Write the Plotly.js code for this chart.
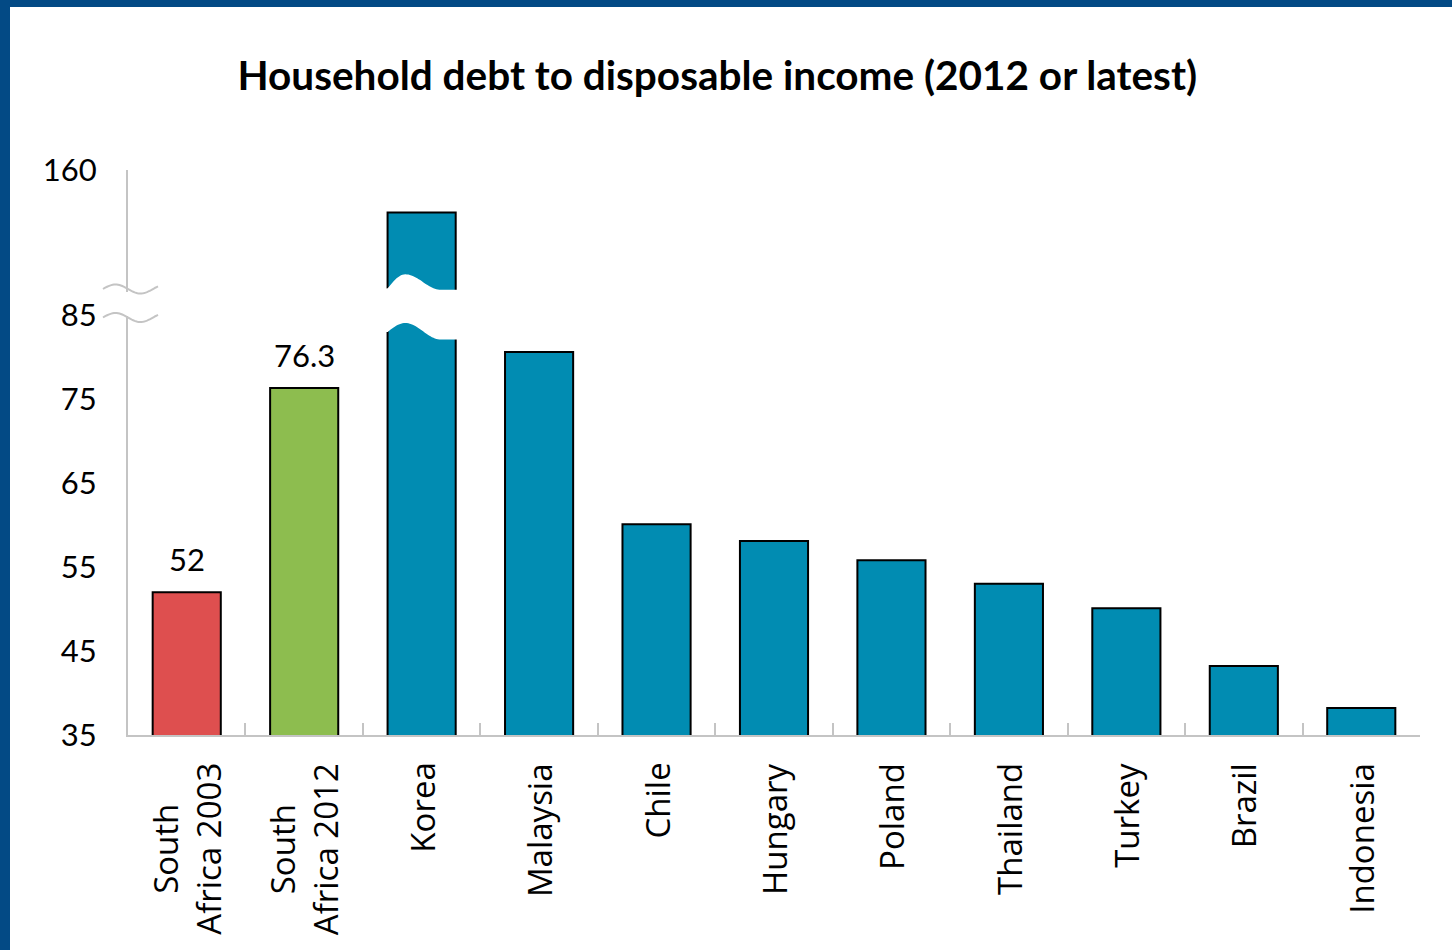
<!DOCTYPE html>
<html>
<head>
<meta charset="utf-8">
<script src="https://cdn.plot.ly/plotly-3.0.1.min.js"></script>
<style>
html, body { margin: 0; padding: 0; background: #ffffff; }
#chart { width: 1452px; height: 950px; }
</style>
</head>
<body>
<div id="chart"></div>
<script>
// ---- data ----
const categories = ['South Africa 2003', 'South Africa 2012', 'Korea', 'Malaysia', 'Chile',
  'Hungary', 'Poland', 'Thailand', 'Turkey', 'Brazil', 'Indonesia'];
const categoryLabels = ['South<br>Africa 2003', 'South<br>Africa 2012', 'Korea', 'Malaysia', 'Chile',
  'Hungary', 'Poland', 'Thailand', 'Turkey', 'Brazil', 'Indonesia'];
const values = [52, 76.3, 138, 80.6, 60.1, 58.1, 55.8, 53.0, 50.1, 43.2, 38.2];
const valueLabels = ['52', '76.3', '', '', '', '', '', '', '', '', ''];
const lowerTicks = [35, 45, 55, 65, 75, 85];
const upperTicks = [160];
const lowerRange = [35, 85];
const upperRange = [85, 160];
const breakIndex = 2; // Korea, the bar that crosses the axis break

// ---- styles ----
const barColors = ['#de4f4f', '#8dbd4f', '#018cb2', '#018cb2', '#018cb2', '#018cb2',
  '#018cb2', '#018cb2', '#018cb2', '#018cb2', '#018cb2'];
const axisGray = '#c4c4c4';
const BAR_W = 0.58;

// plot area in pixels (for decorations only)
const W = 1452, H = 950;
const L = 128, R = 1420, T = 170, B = 735;
const BREAK_PY = 315; // pixel where lower and upper segments meet
const px2x = p => (p - L) / (R - L);
const py2y = p => (B - p) / (B - T);
const splitDomain = py2y(BREAK_PY);

const common = {
  type: 'bar',
  x: categories,
  y: values,
  width: BAR_W,
  marker: { color: barColors, line: { color: '#000000', width: 2 } },
  hoverinfo: 'x+y',
  showlegend: false
};
const lower = Object.assign({}, common, { xaxis: 'x', yaxis: 'y' });
const upper = Object.assign({}, common, { xaxis: 'x', yaxis: 'y2' });

// ---- decorations: axis break and bar break ----
function sinePath(x0, x1, cy, amp, period) {
  let d = '';
  for (let i = 0; i <= 40; i++) {
    const px = x0 + (x1 - x0) * i / 40;
    const py = cy - amp * Math.sin(2 * Math.PI * (px - x0) / period);
    d += (i === 0 ? 'M' : 'L') + px2x(px).toFixed(5) + ',' + py2y(py).toFixed(5) + ' ';
  }
  return d;
}
function edge(t, yl, yp, yr) {
  const tp = 0.26, te = 0.78;
  if (t <= 0) return yl;
  if (t < tp) return yl + (yp - yl) * Math.sin(Math.PI / 2 * t / tp);
  if (t < te) return yr + (yp - yr) * (1 + Math.cos(Math.PI * (t - tp) / (te - tp))) / 2;
  return yr;
}
function barBreakPath(idx) {
  const xl = idx - BAR_W / 2;
  const pts = [];
  const N = 60;
  for (let i = 0; i <= N; i++) {
    const t = -0.15 + 1.3 * i / N;
    pts.push([xl + t * BAR_W, edge(t, 288.5, 274.3, 289.8)]);
  }
  for (let i = N; i >= 0; i--) {
    const t = -0.15 + 1.3 * i / N;
    pts.push([xl + t * BAR_W, edge(t, 332, 323, 339.5)]);
  }
  return pts.map((p, i) => (i === 0 ? 'M' : 'L') + p[0].toFixed(4) + ',' + py2y(p[1]).toFixed(5)).join(' ') + ' Z';
}

const shapes = [
  // frame border (top and left)
  { type: 'rect', xref: 'paper', yref: 'paper', x0: px2x(0), x1: px2x(W), y0: py2y(7), y1: py2y(0),
    fillcolor: '#034a85', line: { width: 0 }, layer: 'above' },
  { type: 'rect', xref: 'paper', yref: 'paper', x0: px2x(0), x1: px2x(10), y0: py2y(H), y1: py2y(0),
    fillcolor: '#034a85', line: { width: 0 }, layer: 'above' },
  // gap in the value axis line
  { type: 'rect', xref: 'paper', yref: 'paper', x0: px2x(124), x1: px2x(132), y0: py2y(316), y1: py2y(292),
    fillcolor: '#ffffff', line: { width: 0 }, layer: 'above' },
  { type: 'path', xref: 'paper', yref: 'paper', path: sinePath(103, 158, 289, 4.5, 50),
    line: { color: axisGray, width: 2 }, layer: 'above' },
  { type: 'path', xref: 'paper', yref: 'paper', path: sinePath(103, 158, 317.5, 4.5, 50),
    line: { color: axisGray, width: 2 }, layer: 'above' },
  // cut through the Korea bar
  { type: 'path', xref: 'x', yref: 'paper', path: barBreakPath(breakIndex),
    fillcolor: '#ffffff', line: { width: 0 }, layer: 'above' }
];

const annotations = [];
categories.forEach((c, i) => {
  annotations.push({
    x: c, xref: 'x', y: py2y(761), yref: 'paper',
    text: categoryLabels[i], textangle: -90, showarrow: false,
    xanchor: 'center', yanchor: 'top', align: 'center',
    font: { family: 'Open Sans, sans-serif', size: 33, color: '#000000' }
  });
  if (valueLabels[i]) {
    annotations.push({
      x: c, xref: 'x', y: values[i], yref: 'y',
      text: valueLabels[i], showarrow: false, xanchor: 'center', yanchor: 'bottom', yshift: 12,
      font: { family: 'Lato, sans-serif', size: 31, color: '#000000' }
    });
  }
});

const layout = {
  width: W, height: H,
  margin: { l: L, r: W - R, t: T, b: H - B, pad: 0 },
  paper_bgcolor: '#ffffff',
  plot_bgcolor: 'rgba(0,0,0,0)',
  title: {
    text: 'Household debt to disposable income (2012 or latest)',
    x: 0.494, xanchor: 'center', y: 1 - 76 / H, yanchor: 'middle', yref: 'container',
    font: { family: 'Lato, sans-serif', size: 40.5, color: '#000000', weight: 'bold' }
  },
  xaxis: {
    type: 'category',
    showline: true, linecolor: axisGray, linewidth: 2,
    ticks: 'inside', tickson: 'boundaries', ticklen: 12, tickcolor: axisGray, tickwidth: 2,
    showticklabels: false, showgrid: false, zeroline: false,
    anchor: 'y', fixedrange: true
  },
  yaxis: {
    domain: [0, splitDomain], range: lowerRange,
    tickmode: 'array', tickvals: lowerTicks, ticktext: lowerTicks.map(String),
    showline: true, linecolor: axisGray, linewidth: 2, ticks: '',
    ticklabelstandoff: 23,
    showgrid: false, zeroline: false, anchor: 'x',
    tickfont: { family: 'Lato, sans-serif', size: 31, color: '#000000' }
  },
  yaxis2: {
    domain: [splitDomain, 1], range: upperRange,
    tickmode: 'array', tickvals: upperTicks, ticktext: upperTicks.map(String),
    showline: true, linecolor: axisGray, linewidth: 2, ticks: '',
    ticklabelstandoff: 23,
    showgrid: false, zeroline: false, anchor: 'x',
    tickfont: { family: 'Lato, sans-serif', size: 31, color: '#000000' }
  },
  shapes: shapes,
  annotations: annotations
};

Plotly.newPlot('chart', [lower, upper], layout, { staticPlot: true, displayModeBar: false });
</script>
</body>
</html>
